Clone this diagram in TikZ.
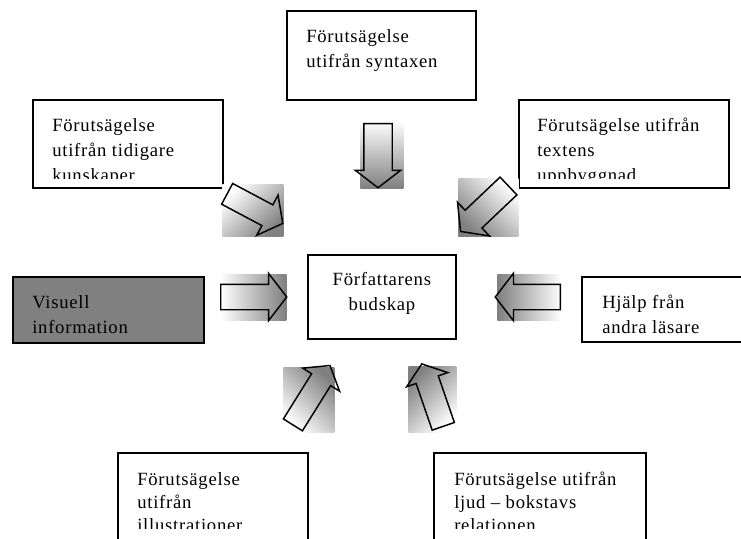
\documentclass[tikz,border=0pt]{standalone}
\usepackage{fontspec}
\setmainfont[LetterSpace=4]{Liberation Serif}
\usetikzlibrary{shapes.arrows,calc}
\newdimen\pxu \pxu=0.75pt

\begin{document}
\begin{tikzpicture}[x=0.75pt,y=-0.75pt,
        box/.style={draw=black,line width=1.3pt,anchor=north west,inner sep=0pt},
        txt/.style={anchor=north west,inner sep=0pt,align=left,font=\fontsize{14}{18.75}\selectfont},
        grad/.style={anchor=north west,inner sep=0pt,shading=axis,top color=white,bottom color=black!50},
        blk/.style={single arrow,draw=black,line width=1.1pt,inner xsep=0pt,anchor=tail,single arrow tip angle=105}]
                \clip(0, 0)rectangle(741, 538);
                % boxes
                \node[box,minimum width=189\pxu,minimum height=89\pxu](syntax)at(286, 10){};
                \node[box,minimum width=190\pxu,minimum height=88\pxu](kunskap)at(32, 99){};
                \node[box,minimum width=210\pxu,minimum height=88\pxu](textens)at(518, 99){};
                \node[box,minimum width=191\pxu,minimum height=66\pxu,fill=black!50](visuell)at(12, 276){};
                \node[box,minimum width=148\pxu,minimum height=84\pxu](budskap)at(307, 254){};
                \node[box,minimum width=180\pxu,minimum height=65\pxu](hjalp)at(581, 276){};
                \node[box,minimum width=190\pxu,minimum height=110\pxu](illus)at(117, 452){};
                \node[box,minimum width=212\pxu,minimum height=110\pxu](ljud)at(433, 452){};
                % texts
                \node[txt](syntaxT)at($(syntax.north west)+(20, 19)$){Förutsägelse\\utifrån syntaxen};
                \node[txt](visuellT)at($(visuell.north west)+(20, 19)$){Visuell\\information};
                \node[txt,anchor=north,align=center](budskapT)at($(budskap.north)+(0, 18)$){Författarens\\budskap};
                \node[txt](hjalpT)at($(hjalp.north west)+(21, 19)$){Hjälp från\\andra läsare};
                \begin{scope}
                \clip(kunskap.north west)rectangle($(textens.south east)+(0, -10)$);
                \node[txt](kunskapT)at($(kunskap.north west)+(20, 19)$){Förutsägelse\\utifrån tidigare\\kunskaper};
                \node[txt](textensT)at($(textens.north west)+(19, 19)$){Förutsägelse utifrån\\textens\\uppbyggnad};
                \end{scope}
                \begin{scope}
                \clip(illus.north west)rectangle($(ljud.north east)+(0, 76)$);
                \node[txt,font=\fontsize{14}{17.25}\selectfont](illusT)at($(illus.north west)+(20, 20)$){Förutsägelse\\utifrån\\illustrationer};
                \node[txt,font=\fontsize{14}{17.25}\selectfont](ljudT)at($(ljud.north west)+(21, 20)$){Förutsägelse utifrån\\ljud – bokstavs\\relationen};
                \end{scope}
                % shaded squares behind the arrows
                \node[grad,minimum width=43\pxu,minimum height=67\pxu](gTop)at(360, 121){};
                \node[grad,minimum width=61\pxu,minimum height=52\pxu,shading angle=45](gTL)at(222, 184){};
                \node[grad,minimum width=60\pxu,minimum height=58\pxu,shading angle=-45](gTR)at(458, 178){};
                \node[grad,minimum width=66\pxu,minimum height=46\pxu,shading angle=90](gL)at(220, 274){};
                \node[grad,minimum width=64\pxu,minimum height=46\pxu,shading angle=-90](gR)at(497, 274){};
                \node[grad,minimum width=51\pxu,minimum height=65\pxu,shading angle=135](gBL)at(283, 367){};
                \node[grad,minimum width=48\pxu,minimum height=66\pxu,shading angle=-135](gBR)at(408, 366){};
                % block arrows
                \node[blk,rotate=-90,minimum height=64\pxu,inner ysep=13.5\pxu,single arrow head extend=8.5\pxu](aTop)at(378, 123){};
                \node[blk,rotate=-28,minimum height=63\pxu,inner ysep=11\pxu,single arrow head extend=11\pxu](aTL)at(226.5, 193.5){};
                \node[blk,rotate=-136.5,minimum height=66\pxu,inner ysep=11.5\pxu,single arrow head extend=11\pxu](aTR)at(509, 185.5){};
                \node[blk,minimum height=66\pxu,inner ysep=12\pxu,single arrow head extend=11\pxu](aL)at(220, 297){};
                \node[blk,rotate=180,minimum height=65\pxu,inner ysep=12\pxu,single arrow head extend=11\pxu](aR)at(561, 297){};
                \node[blk,rotate=58,minimum height=70\pxu,inner ysep=10.5\pxu,single arrow head extend=10.5\pxu](aBL)at(292.5, 425.5){};
                \node[blk,rotate=109,minimum height=66\pxu,inner ysep=11\pxu,single arrow head extend=10\pxu](aBR)at(443.5, 427){};
            \end{tikzpicture}
\end{document}
